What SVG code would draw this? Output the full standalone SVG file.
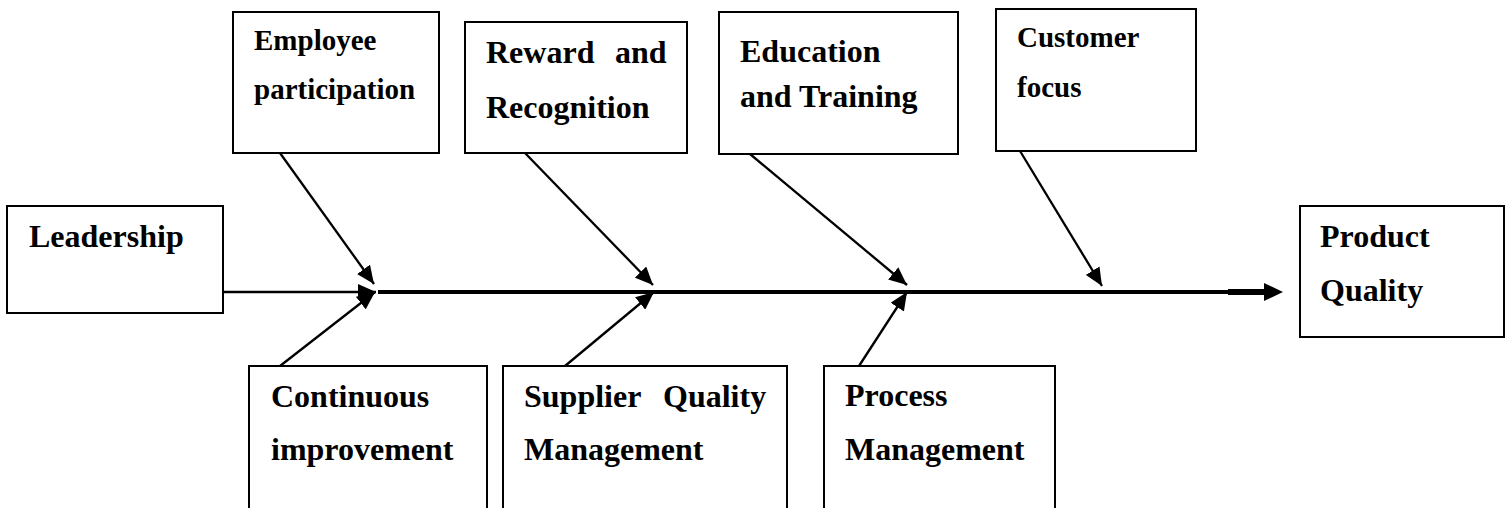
<svg xmlns="http://www.w3.org/2000/svg" width="1512" height="508" viewBox="0 0 1512 508">
<style>
.box{fill:#fff;stroke:#000;stroke-width:2}
.t{font-family:"Liberation Serif","Times New Roman",serif;font-weight:bold;font-size:32px;fill:#000}
.s{font-size:29px}
.c{stroke:#000;stroke-width:2.3;fill:none}
</style>
<defs>
<marker id="ah" markerUnits="userSpaceOnUse" markerWidth="18" markerHeight="16" refX="18" refY="8" orient="auto">
<path d="M0,0 L18,8 L0,16 z" fill="#000"/>
</marker>
</defs>
<rect width="1512" height="508" fill="#fff"/>
<g id="connectors">
<line class="c" x1="223" y1="292" x2="376" y2="292" marker-end="url(#ah)"/>
<line x1="378" y1="292" x2="1230" y2="292" stroke="#000" stroke-width="4"/>
<line x1="1228" y1="292" x2="1266" y2="292" stroke="#000" stroke-width="6"/>
<path d="M1264,283 L1283,292 L1264,301 z" fill="#000"/>
<line class="c" x1="280" y1="153" x2="374" y2="284" marker-end="url(#ah)"/>
<line class="c" x1="280" y1="366" x2="375" y2="292" marker-end="url(#ah)"/>
<line class="c" x1="525" y1="153" x2="653" y2="285" marker-end="url(#ah)"/>
<line class="c" x1="565" y1="366" x2="654" y2="292" marker-end="url(#ah)"/>
<line class="c" x1="750" y1="154" x2="907" y2="285" marker-end="url(#ah)"/>
<line class="c" x1="859" y1="366" x2="907" y2="292" marker-end="url(#ah)"/>
<line class="c" x1="1020" y1="151" x2="1102" y2="286" marker-end="url(#ah)"/>
</g>
<g id="leadership">
<rect class="box" x="7" y="206" width="216" height="107"/>
<text class="t" x="29" y="247">Leadership</text>
</g>
<g id="employee">
<rect class="box" x="233" y="12" width="206" height="141"/>
<text class="t s" x="254" y="50">Employee</text>
<text class="t s" x="254" y="99">participation</text>
</g>
<g id="reward">
<rect class="box" x="465" y="22" width="222" height="131"/>
<text class="t" y="63"><tspan x="486">Reward</tspan><tspan x="615">and</tspan></text>
<text class="t" x="486" y="118">Recognition</text>
</g>
<g id="education">
<rect class="box" x="719" y="12" width="239" height="142"/>
<text class="t" x="740" y="62">Education</text>
<text class="t" x="740" y="107">and Training</text>
</g>
<g id="customer">
<rect class="box" x="996" y="9" width="200" height="142"/>
<text class="t s" x="1017" y="47">Customer</text>
<text class="t s" x="1017" y="97">focus</text>
</g>
<g id="product">
<rect class="box" x="1300" y="206" width="204" height="131"/>
<text class="t" x="1320" y="247">Product</text>
<text class="t" x="1320" y="301">Quality</text>
</g>
<g id="continuous">
<rect class="box" x="249" y="366" width="238" height="160"/>
<text class="t" x="271" y="407">Continuous</text>
<text class="t" x="271" y="460">improvement</text>
</g>
<g id="supplier">
<rect class="box" x="503" y="366" width="284" height="160"/>
<text class="t" y="407"><tspan x="524">Supplier</tspan><tspan x="663">Quality</tspan></text>
<text class="t" x="524" y="460">Management</text>
</g>
<g id="process">
<rect class="box" x="824" y="366" width="231" height="160"/>
<text class="t" x="845" y="406">Process</text>
<text class="t" x="845" y="460">Management</text>
</g>
</svg>
